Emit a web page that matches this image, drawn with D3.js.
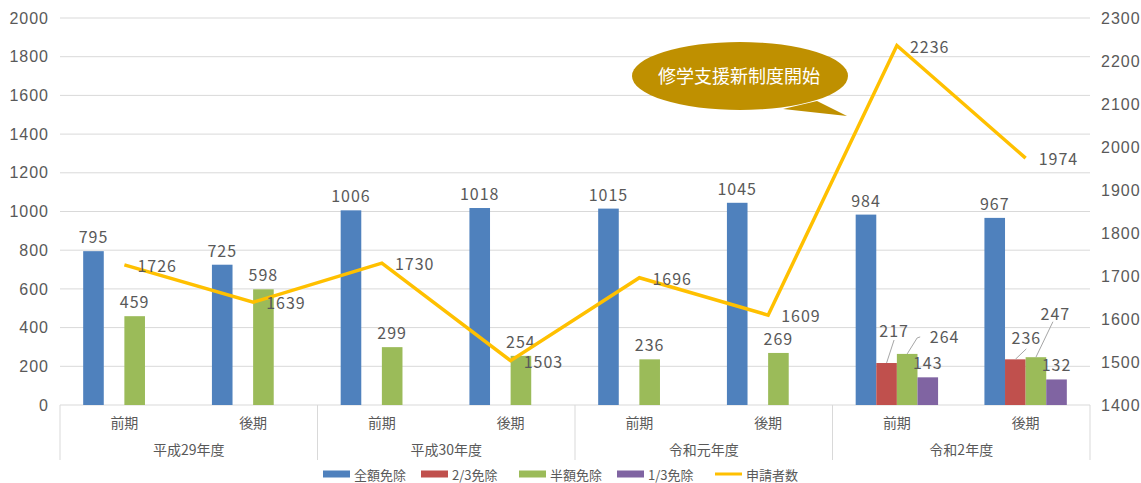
<!DOCTYPE html>
<html>
<head>
<meta charset="utf-8">
<script src="https://cdn.jsdelivr.net/npm/d3@7"></script>
<style>
  body { margin: 0; background: #fff; }
  svg { font-family: "Noto Sans CJK JP", "Noto Sans", sans-serif; }
  text { fill: #595959; }
  .num { letter-spacing: 1px; }
</style>
</head>
<body>
<div id="chart"></div>
<script>
//----------data---------
const periods = ["前期", "後期", "前期", "後期", "前期", "後期", "前期", "後期"];
const years = ["平成29年度", "平成30年度", "令和元年度", "令和2年度"];

const fullExempt      = [795, 725, 1006, 1018, 1015, 1045, 984, 967];
const twoThirdsExempt = [null, null, null, null, null, null, 217, 236];
const halfExempt      = [459, 598, 299, 254, 236, 269, 264, 247];
const oneThirdExempt  = [null, null, null, null, null, null, 143, 132];
const applicants      = [1726, 1639, 1730, 1503, 1696, 1609, 2236, 1974];

const seriesNames = ["全額免除", "2/3免除", "半額免除", "1/3免除"];
const lineName = "申請者数";

const leftTicks  = [0, 200, 400, 600, 800, 1000, 1200, 1400, 1600, 1800, 2000];
const rightTicks = [1400, 1500, 1600, 1700, 1800, 1900, 2000, 2100, 2200, 2300];

const calloutText = "修学支援新制度開始";

//----------setup---------
const width = 1141, height = 483;
const margin = {top: 18, right: 51, bottom: 78, left: 60};
const colors = ["#4F81BD", "#C0504D", "#9BBB59", "#8064A2"];
const lineColor = "#FFC000";

const svg = d3.select("#chart").append("svg")
  .attr("width", width)
  .attr("height", height);

const idx = d3.range(periods.length);

const x = d3.scaleBand()
  .domain(idx)
  .range([margin.left, width - margin.right])
  .padding(0);

const groupWidth = x.bandwidth() * 0.64;
const xInner = d3.scaleBand()
  .domain(d3.range(seriesNames.length))
  .range([-groupWidth / 2, groupWidth / 2])
  .padding(0);

const yLeft = d3.scaleLinear()
  .domain([0, 2000])
  .range([height - margin.bottom, margin.top]);

const yRight = d3.scaleLinear()
  .domain([1400, 2300])
  .range([height - margin.bottom, margin.top]);

// gridlines
svg.append("g")
  .selectAll("line")
  .data(leftTicks)
  .join("line")
  .attr("x1", margin.left)
  .attr("x2", width - margin.right)
  .attr("y1", d => yLeft(d))
  .attr("y2", d => yLeft(d))
  .attr("stroke", "#d9d9d9")
  .attr("stroke-width", 1);

// left axis labels
const leftAxis = d3.axisLeft(yLeft).tickValues(leftTicks).tickFormat(d3.format("d")).tickSize(0).tickPadding(11);
svg.append("g")
  .attr("transform", `translate(${margin.left},0)`)
  .call(leftAxis)
  .call(g => g.select(".domain").remove())
  .selectAll("text")
  .attr("class", "num")
  .attr("font-size", 16)
  .attr("font-family", "inherit")
  .attr("fill", "#595959");

// right axis labels
const rightAxis = d3.axisRight(yRight).tickValues(rightTicks).tickFormat(d3.format("d")).tickSize(0).tickPadding(11);
svg.append("g")
  .attr("transform", `translate(${width - margin.right},0)`)
  .call(rightAxis)
  .call(g => g.select(".domain").remove())
  .selectAll("text")
  .attr("class", "num")
  .attr("font-size", 16)
  .attr("font-family", "inherit")
  .attr("fill", "#595959");

// category axis: two levels
const baseY = yLeft(0);
const groupEdges = d3.range(years.length + 1).map(i =>
  i < years.length ? x(i * 2) : x(periods.length - 1) + x.bandwidth());

svg.append("g")
  .selectAll("line")
  .data(groupEdges)
  .join("line")
  .attr("x1", d => d).attr("x2", d => d)
  .attr("y1", baseY).attr("y2", baseY + 55)
  .attr("stroke", "#d9d9d9");

svg.append("g")
  .selectAll("text")
  .data(periods)
  .join("text")
  .attr("x", (d, i) => x(i) + x.bandwidth() / 2)
  .attr("y", baseY + 17)
  .attr("text-anchor", "middle")
  .attr("dominant-baseline", "central")
  .attr("font-size", 14)
  .text(d => d);

svg.append("g")
  .selectAll("text")
  .data(years)
  .join("text")
  .attr("x", (d, i) => (groupEdges[i] + groupEdges[i + 1]) / 2)
  .attr("y", baseY + 44)
  .attr("text-anchor", "middle")
  .attr("dominant-baseline", "central")
  .attr("font-size", 14)
  .text(d => d);

//----------bars---------
const seriesValues = [fullExempt, twoThirdsExempt, halfExempt, oneThirdExempt];
const barData = [];
seriesValues.forEach((vals, s) => {
  vals.forEach((v, i) => {
    if (v != null) barData.push({s, i, v});
  });
});

svg.append("g")
  .selectAll("rect")
  .data(barData)
  .join("rect")
  .attr("x", d => x(d.i) + x.bandwidth() / 2 + xInner(d.s))
  .attr("width", xInner.bandwidth())
  .attr("y", d => yLeft(d.v))
  .attr("height", d => baseY - yLeft(d.v))
  .attr("fill", d => colors[d.s]);

// label nudges for the crowded 令和2年度 bars (label centre relative to bar top, leader start relative to label)
const nudges = {
  "1-6": {dx: 7.5, dy: -33, leader: [[0, 10]]},
  "2-6": {dx: 37.5, dy: -18, leader: [[-24.5, 1], [-27.5, 2]]},
  "1-7": {dx: 11, dy: -22.5, leader: [[0, 12]]},
  "2-7": {dx: 19.5, dy: -44.5, leader: [[-2.5, 9]]}
};

const barLabels = svg.append("g");
barData.forEach(d => {
  const cx = x(d.i) + x.bandwidth() / 2 + xInner(d.s) + xInner.bandwidth() / 2;
  const top = yLeft(d.v);
  const n = nudges[`${d.s}-${d.i}`] || {dx: 0, dy: -15};
  const lx = cx + n.dx, ly = top + n.dy;
  if (n.leader) {
    const pts = n.leader.map(p => [lx + p[0], ly + p[1]]).concat([[cx, top]]);
    barLabels.append("path")
      .attr("d", d3.line()(pts))
      .attr("fill", "none")
      .attr("stroke", "#a6a6a6")
      .attr("stroke-width", 1);
  }
  barLabels.append("text")
    .attr("class", "num")
    .attr("x", lx)
    .attr("y", ly)
    .attr("text-anchor", "middle")
    .attr("dominant-baseline", "central")
    .attr("font-size", 16)
    .text(d.v);
});

//----------line---------
const line = d3.line()
  .x((d, i) => x(i) + x.bandwidth() / 2)
  .y(d => yRight(d));

svg.append("path")
  .datum(applicants)
  .attr("d", line)
  .attr("fill", "none")
  .attr("stroke", lineColor)
  .attr("stroke-width", 3.5)
  .attr("stroke-linejoin", "miter");

svg.append("g")
  .selectAll("text")
  .data(applicants)
  .join("text")
  .attr("class", "num")
  .attr("x", (d, i) => x(i) + x.bandwidth() / 2 + 13)
  .attr("y", d => yRight(d))
  .attr("dominant-baseline", "central")
  .attr("font-size", 16)
  .text(d => d);

//----------callout---------
const callout = svg.append("g");
callout.append("path")
  .attr("d", "M817,101 L847,116 L783,109 Z")
  .attr("fill", "#BF9000");
callout.append("ellipse")
  .attr("cx", 740).attr("cy", 76)
  .attr("rx", 108).attr("ry", 34)
  .attr("fill", "#BF9000");
callout.append("text")
  .attr("x", 739).attr("y", 75)
  .attr("text-anchor", "middle")
  .attr("dominant-baseline", "central")
  .attr("font-size", 18)
  .style("fill", "#ffffff")
  .text(calloutText);

//----------legend---------
const legendItems = seriesNames.map((name, s) => ({name, color: colors[s], type: "bar"}))
  .concat([{name: lineName, color: lineColor, type: "line"}]);

const legend = svg.append("g").attr("transform", `translate(323, ${height - 9})`);
legendItems.forEach((item, k) => {
  const g = legend.append("g").attr("transform", `translate(${k * 98}, 0)`);
  g.append("rect")
    .attr("x", 0)
    .attr("y", item.type === "bar" ? -3.5 : -1.5)
    .attr("width", 27)
    .attr("height", item.type === "bar" ? 7 : 3)
    .attr("fill", item.color);
  g.append("text")
    .attr("x", 31)
    .attr("y", 0)
    .attr("dominant-baseline", "central")
    .attr("font-size", 13)
    .text(item.name);
});
</script>
</body>
</html>
